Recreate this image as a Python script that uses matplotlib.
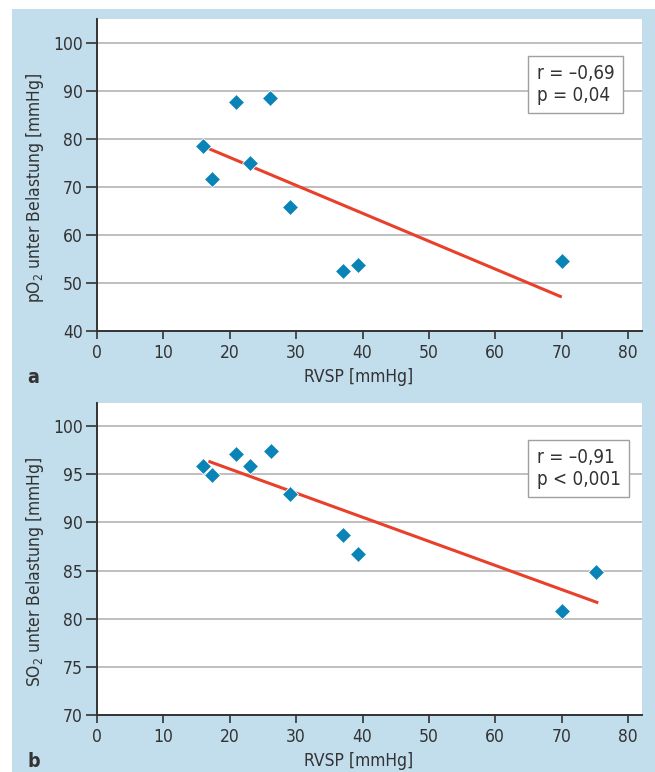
import matplotlib
matplotlib.use('Agg')
import matplotlib.pyplot as plt
from matplotlib.patches import Rectangle

plt.rcParams['font.family'] = ['DejaVu Sans']
plt.rcParams['font.stretch'] = 'condensed'

# RVSP per patient (panel a lacks the 75 mmHg point)
rvsp_a = [16, 17.25, 21, 23, 26.1, 29.1, 37, 39.25, 70.1]
po2 = [78.5, 71.7, 87.8, 75.1, 88.5, 65.8, 52.5, 53.8, 54.6]
rvsp_b = [16, 17.3, 21, 23, 26.2, 29.1, 37, 39.25, 70.1, 75.2]
so2 = [95.9, 94.9, 97.1, 95.9, 97.4, 92.9, 88.7, 86.7, 80.85, 84.9]

# regression line end points
fit_a_x = [17.0, 69.8]
fit_a_y = [77.9, 47.2]
fit_b_x = [17.0, 75.3]
fit_b_y = [96.3, 81.7]

xticks = [0, 10, 20, 30, 40, 50, 60, 70, 80]
yticks_a = [40, 50, 60, 70, 80, 90, 100]
yticks_b = [70, 75, 80, 85, 90, 95, 100]

BLUE_BG = '#c2deed'
MARKER = '#0a84b6'
RED = '#e8402a'
DARK = '#333333'
FS = 12.5

fig = plt.figure(figsize=(6.55, 7.72), dpi=100)
fig.patch.set_facecolor('white')
fig.patches.append(Rectangle((12 / 655, 0), 1, 1 - 9 / 772, transform=fig.transFigure,
                             facecolor=BLUE_BG, edgecolor='none', zorder=-10))

ax_a = fig.add_axes([97 / 655, 1 - 331 / 772, 545 / 655, 312 / 772])
ax_b = fig.add_axes([97 / 655, 1 - 715 / 772, 545 / 655, 312 / 772])


def style_axes(ax, yticks, ylim, ylabel, stats, letter):
    ax.set_facecolor('white')
    ax.set_xlim(0, 82.1)
    ax.set_ylim(*ylim)
    ax.set_xticks(xticks)
    ax.set_yticks(yticks)
    for y in yticks[1:]:
        ax.axhline(y, color='#b4b4b4', lw=1.2, zorder=1)
    for side in ['top', 'right']:
        ax.spines[side].set_visible(False)
    for side in ['left', 'bottom']:
        ax.spines[side].set_color(DARK)
        ax.spines[side].set_linewidth(1.4)
    ax.tick_params(axis='y', direction='out', length=8, width=1.2, color=DARK,
                   labelsize=FS, labelcolor=DARK, pad=2)
    ax.tick_params(axis='x', direction='out', length=6, width=1.2, color=DARK,
                   labelsize=FS, labelcolor=DARK, pad=3)
    ax.set_xlabel('RVSP [mmHg]', fontsize=FS, color=DARK)
    ax.xaxis.set_label_coords(0.48, -0.118)
    ax.set_ylabel(ylabel, fontsize=FS, color=DARK)
    ax.yaxis.set_label_coords(-0.094, 0.46)
    ax.text(0.807, 0.79, stats, transform=ax.transAxes, fontsize=13.5, color=DARK,
            va='center', ha='left', linespacing=1.15, zorder=5,
            bbox=dict(boxstyle='square,pad=0.45', fc='white', ec='#a0a0a0', lw=1))
    ax.text(-0.128, -0.15, letter, transform=ax.transAxes, fontsize=14,
            fontweight='bold', color=DARK, va='center', ha='left')


style_axes(ax_a, yticks_a, (40, 105), 'pO$_2$ unter Belastung [mmHg]',
           'r = \u20130,69\np = 0,04', 'a')
ax_a.plot(fit_a_x, fit_a_y, color=RED, lw=2.2, zorder=3)
ax_a.plot(rvsp_a, po2, 'D', color=MARKER, ms=8, mec='white', mew=0.6, zorder=4)

style_axes(ax_b, yticks_b, (70, 102.4), 'SO$_2$ unter Belastung [mmHg]',
           'r = \u20130,91\np < 0,001', 'b')
ax_b.plot(fit_b_x, fit_b_y, color=RED, lw=2.2, zorder=3)
ax_b.plot(rvsp_b, so2, 'D', color=MARKER, ms=8, mec='white', mew=0.6, zorder=4)

fig.savefig('out.png', dpi=100)
